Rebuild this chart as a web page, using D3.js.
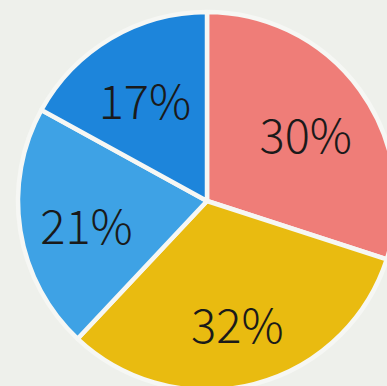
<!DOCTYPE html>
<html>
<head>
<meta charset="utf-8">
<script src="https://cdn.jsdelivr.net/npm/d3@7"></script>
<style>
  html, body { margin: 0; padding: 0; background: #eef0eb; }
  svg { display: block; }
</style>
</head>
<body>
<div id="chart"></div>
<script>
// slices, clockwise from 12 o'clock
const labels = ["30%", "32%", "21%", "17%"];
const values = [30, 32, 21, 17];
const colors = ["#ef7d78", "#e9bb10", "#3ea2e5", "#1d85db"];

const width = 387, height = 386;
const cx = 207, cy = 201, radius = 189;

const svg = d3.select("#chart").append("svg")
  .attr("width", width)
  .attr("height", height);

const g = svg.append("g").attr("transform", `translate(${cx},${cy})`);

const pie = d3.pie().sort(null).value(d => d.value);
const arcs = pie(values.map((v, i) => ({ label: labels[i], value: v, color: colors[i] })));

const arc = d3.arc().innerRadius(0).outerRadius(radius);
const label_arc = d3.arc().innerRadius(122).outerRadius(122);

g.selectAll("path.slice")
  .data(arcs)
  .join("path")
    .classed("slice", true)
    .attr("d", arc)
    .attr("fill", d => d.data.color)
    .attr("stroke", "#f6f7f4")
    .attr("stroke-width", 4.5)
    .attr("stroke-linejoin", "round");

g.selectAll("text.label")
  .data(arcs)
  .join("text")
    .classed("label", true)
    .attr("transform", d => `translate(${label_arc.centroid(d)})`)
    .attr("text-anchor", "middle")
    .attr("dy", "0.5em")
    .attr("font-family", "'Noto Sans CJK SC', 'Noto Sans', sans-serif")
    .attr("font-weight", 300)
    .attr("font-size", 47)
    .attr("fill", "#1a1a1a")
    .text(d => d.data.label);
</script>
</body>
</html>
